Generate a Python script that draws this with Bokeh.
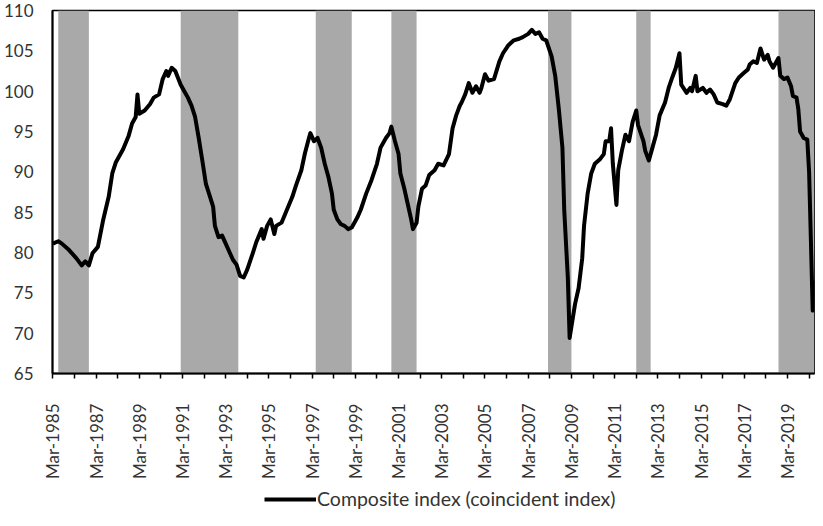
import math
from bokeh.plotting import figure
from bokeh.layouts import column
from bokeh.models import FixedTicker, Legend, LegendItem, Range1d
from bokeh.embed import file_html
from bokeh.resources import INLINE

# ---- data ----
dates = [
    "1985-03", "1985-06", "1985-08", "1985-12", "1986-04", "1986-07", "1986-09", "1986-11",
    "1987-01", "1987-04", "1987-07", "1987-10", "1987-12", "1988-02", "1988-03", "1988-06",
    "1988-09", "1988-11", "1989-01", "1989-02", "1989-03", "1989-06", "1989-09", "1989-11",
    "1990-02", "1990-04", "1990-06", "1990-07", "1990-09", "1990-11", "1991-02", "1991-04",
    "1991-06", "1991-08", "1991-10", "1991-12", "1992-02", "1992-04", "1992-06", "1992-08",
    "1992-09", "1992-11", "1993-01", "1993-03", "1993-05", "1993-07", "1993-09", "1993-11",
    "1994-01", "1994-03", "1994-06", "1994-08", "1994-11", "1994-12", "1995-02", "1995-04",
    "1995-06", "1995-07", "1995-10", "1996-01", "1996-04", "1996-06", "1996-09", "1996-11",
    "1997-01", "1997-02", "1997-04", "1997-06", "1997-08", "1997-10", "1997-12", "1998-02",
    "1998-03", "1998-05", "1998-07", "1998-09", "1998-11", "1999-01", "1999-04", "1999-06",
    "1999-09", "1999-12", "2000-03", "2000-05", "2000-08", "2000-10", "2000-11", "2001-01",
    "2001-03", "2001-04", "2001-06", "2001-08", "2001-10", "2001-11", "2002-01", "2002-02",
    "2002-04", "2002-06", "2002-08", "2002-11", "2003-01", "2003-04", "2003-07", "2003-09",
    "2003-11", "2004-01", "2004-02", "2004-04", "2004-06", "2004-08", "2004-10", "2004-12",
    "2005-01", "2005-03", "2005-05", "2005-08", "2005-11", "2006-01", "2006-04", "2006-07",
    "2006-10", "2006-12", "2007-03", "2007-05", "2007-07", "2007-09", "2007-11", "2008-01",
    "2008-04", "2008-06", "2008-08", "2008-10", "2008-11", "2009-01", "2009-02", "2009-05",
    "2009-07", "2009-09", "2009-10", "2009-12", "2010-02", "2010-04", "2010-07", "2010-09",
    "2010-10", "2010-12", "2011-01", "2011-02", "2011-04", "2011-05", "2011-07", "2011-09",
    "2011-11", "2012-01", "2012-03", "2012-04", "2012-07", "2012-08", "2012-10", "2012-12",
    "2013-02", "2013-04", "2013-07", "2013-09", "2013-11", "2014-01", "2014-03", "2014-04",
    "2014-07", "2014-09", "2014-10", "2014-12", "2015-01", "2015-04", "2015-06", "2015-08",
    "2015-10", "2015-12", "2016-03", "2016-05", "2016-07", "2016-10", "2016-12", "2017-03",
    "2017-05", "2017-06", "2017-08", "2017-10", "2017-12", "2018-02", "2018-04", "2018-05",
    "2018-07", "2018-10", "2018-11", "2019-01", "2019-03", "2019-05", "2019-06", "2019-08",
    "2019-09", "2019-10", "2019-12", "2020-02", "2020-03", "2020-04", "2020-05", "2020-06",
]
values = [
    81.1, 81.4, 81.1, 80.3, 79.3, 78.4, 78.9, 78.4,
    79.9, 80.7, 84.1, 86.9, 89.8, 91.2, 91.6, 92.8,
    94.4, 96.0, 96.8, 99.6, 97.2, 97.6, 98.4, 99.2,
    99.6, 101.5, 102.5, 101.9, 102.9, 102.5, 100.8, 100.0,
    99.2, 98.2, 96.8, 94.2, 91.4, 88.5, 87.1, 85.7,
    83.3, 81.9, 82.1, 81.1, 80.1, 79.1, 78.5, 77.1,
    76.9, 77.9, 79.9, 81.3, 82.9, 81.7, 83.3, 84.1,
    82.3, 83.3, 83.7, 85.3, 86.9, 88.3, 90.2, 92.3,
    94.0, 94.8, 93.8, 94.2, 93.0, 91.0, 89.4, 87.3,
    85.3, 84.1, 83.5, 83.3, 82.9, 83.1, 84.3, 85.3,
    87.3, 89.0, 91.0, 93.0, 94.2, 94.8, 95.6, 93.8,
    92.2, 89.8, 88.1, 86.1, 84.1, 82.9, 83.7, 85.7,
    87.9, 88.3, 89.6, 90.2, 91.0, 90.8, 92.2, 95.4,
    97.0, 98.2, 98.6, 99.6, 101.0, 99.8, 100.6, 99.8,
    100.4, 102.1, 101.3, 101.5, 103.7, 104.7, 105.7, 106.3,
    106.5, 106.7, 107.1, 107.6, 107.1, 107.3, 106.5, 106.3,
    104.3, 101.9, 97.8, 93.0, 85.3, 76.9, 69.4, 73.6,
    75.6, 79.3, 83.3, 87.3, 89.8, 91.0, 91.6, 92.2,
    93.8, 93.8, 95.4, 91.0, 85.9, 90.2, 92.6, 94.6,
    93.8, 96.2, 97.6, 95.8, 93.8, 92.6, 91.4, 93.0,
    94.6, 97.0, 98.6, 100.4, 101.7, 102.9, 104.7, 100.8,
    99.8, 100.4, 100.0, 101.9, 100.0, 100.4, 99.8, 100.2,
    99.6, 98.6, 98.4, 98.2, 99.0, 101.0, 101.7, 102.3,
    102.7, 103.3, 103.7, 103.5, 105.3, 103.9, 104.5, 103.7,
    102.9, 104.1, 101.9, 101.5, 101.7, 100.6, 99.4, 99.2,
    97.8, 95.0, 94.2, 94.0, 90.0, 81.5, 72.8, 76.5,
]

recession_start = ["1985-06", "1991-02", "1997-05", "2000-11", "2008-02", "2012-03", "2018-10"]
recession_end = ["1986-11", "1993-10", "1999-01", "2002-01", "2009-03", "2012-11", "2020-06"]

tick_years = list(range(1985, 2021))
y_ticks = [65, 70, 75, 80, 85, 90, 95, 100, 105, 110]
series_label = "Composite index (coincident index)"


def month_index(s):
    y, m = s.split("-")
    return (int(y) - 1985) * 12 + (int(m) - 1)


xs = [month_index(d) for d in dates]
rec_l = [month_index(d) for d in recession_start]
rec_r = [month_index(d) for d in recession_end]

FONT = "Lato"
TXT = "#333333"

p = figure(
    width=815, height=483,
    output_backend="svg", toolbar_location=None,
    x_range=Range1d(1.8, 425), y_range=Range1d(65, 110),
    min_border_left=47, min_border_right=1, min_border_top=10, min_border_bottom=110,
    frame_align=False,
)
p.xgrid.visible = False
p.ygrid.visible = False
p.outline_line_color = "black"
p.outline_line_width = 1.5
p.background_fill_color = "white"

p.quad(left=rec_l, right=rec_r, bottom=65, top=110,
       fill_color="#a9a9a9", line_color=None)

r = p.line(xs, values, line_color="black", line_width=4, line_join="round")

# x axis
tick_pos = [(y - 1985) * 12 + 2 for y in tick_years]
p.xaxis.ticker = FixedTicker(ticks=tick_pos, minor_ticks=[])
p.xaxis.major_label_overrides = {
    (y - 1985) * 12 + 2: (f"Mar-{y}" if (y - 1985) % 2 == 0 else "") for y in tick_years
}
p.xaxis.major_label_orientation = math.pi / 2
p.xaxis.major_tick_out = 5
p.xaxis.major_tick_in = 0
p.xaxis.minor_tick_out = 0
p.xaxis.major_label_standoff = 25
p.xaxis.axis_line_width = 2
p.xaxis.axis_line_color = "black"
p.xaxis.major_tick_line_width = 1.5
p.xaxis.major_tick_line_color = "black"
p.xaxis.major_label_text_font = FONT
p.xaxis.major_label_text_font_size = "17px"
p.xaxis.major_label_text_color = TXT

# y axis
p.yaxis.ticker = FixedTicker(ticks=y_ticks, minor_ticks=[])
p.yaxis.major_tick_out = 0
p.yaxis.major_tick_in = 0
p.yaxis.minor_tick_out = 0
p.yaxis.major_label_standoff = 19
p.yaxis.axis_line_width = 2
p.yaxis.axis_line_color = "black"
p.yaxis.major_label_text_font = FONT
p.yaxis.major_label_text_font_size = "17px"
p.yaxis.major_label_text_color = TXT

# legend strip below the chart (series drawn off-view so only its legend shows)
p2 = figure(
    width=815, height=27,
    output_backend="svg", toolbar_location=None,
    x_range=Range1d(-2, -1), y_range=Range1d(0, 1),
    x_axis_location=None, y_axis_location=None,
    min_border_left=0, min_border_right=0, min_border_top=0, min_border_bottom=0,
    frame_align=False,
)
p2.grid.visible = False
p2.outline_line_color = None
r2 = p2.line(xs, values, line_color="black", line_width=4)

legend = Legend(
    items=[LegendItem(label=series_label, renderers=[r2])],
    location=(264, 0), orientation="horizontal",
    border_line_color=None, background_fill_alpha=0,
    padding=0, margin=0, glyph_width=52, glyph_height=20, label_standoff=1,
    label_text_font=FONT, label_text_font_size="19.5px", label_text_color=TXT,
)
p2.add_layout(legend)

layout = column(p, p2, spacing=0)
open("out.html", "w").write(file_html(layout, INLINE))
